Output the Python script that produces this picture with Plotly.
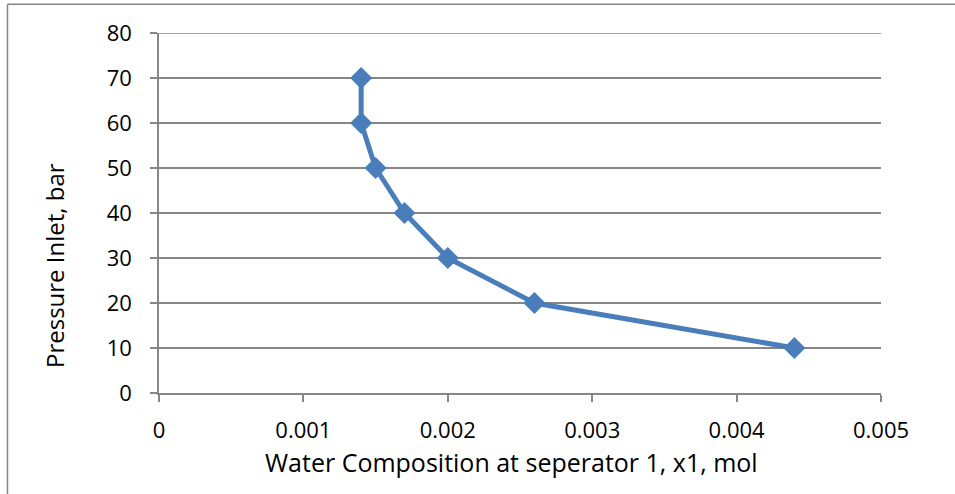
import plotly.graph_objects as go

water_x1 = [0.0014, 0.0014, 0.0015, 0.0017, 0.0020, 0.0026, 0.0044]
pressure_bar = [70, 60, 50, 40, 30, 20, 10]

x_ticks = [0, 0.001, 0.002, 0.003, 0.004, 0.005]
x_tick_labels = ["0", "0.001", "0.002", "0.003", "0.004", "0.005"]
y_ticks = [0, 10, 20, 30, 40, 50, 60, 70, 80]
x_title = "Water Composition at seperator 1, x1, mol"
y_title = "Pressure Inlet, bar"

W, H = 955, 494
L, R, T, B = 159, 74, 33, 101
pw, ph = W - L - R, H - T - B

grid = "#868686"
font_family = "Open Sans, Liberation Sans, sans-serif"

def px(xp):
    return (xp - L) / pw

def py(yp):
    return (H - B - yp) / ph

fig = go.Figure()
fig.add_trace(go.Scatter(
    x=water_x1, y=pressure_bar, mode="lines+markers",
    line=dict(color="#4A7EBB", width=5),
    marker=dict(symbol="diamond", size=17, color="#4A7EBB"),
    showlegend=False,
))

bx, by = px(7.5), py(4.3)
fig.add_shape(type="line", xref="paper", yref="paper",
              x0=bx, x1=bx, y0=by, y1=-0.5, line=dict(color=grid, width=1.5))
fig.add_shape(type="line", xref="paper", yref="paper",
              x0=bx, x1=1.5, y0=by, y1=by, line=dict(color=grid, width=1.5))
fig.add_shape(type="line", xref="paper", yref="y",
              x0=0, x1=1, y0=y_ticks[-1], y1=y_ticks[-1], line=dict(color=grid, width=1.5),
              layer="below")

fig.add_annotation(text=x_title, xref="paper", yref="paper", x=px(511), y=py(462),
                   showarrow=False, xanchor="center", yanchor="middle",
                   font=dict(size=25, family=font_family, color="black"))
fig.add_annotation(text=y_title, xref="paper", yref="paper", x=px(54), y=py(266),
                   showarrow=False, xanchor="center", yanchor="middle", textangle=-90,
                   font=dict(size=24, family=font_family, color="black"))

fig.update_layout(
    width=W, height=H,
    margin=dict(l=L, r=R, t=T, b=B, pad=0),
    paper_bgcolor="white", plot_bgcolor="white",
    font=dict(family=font_family, size=22, color="black"),
    xaxis=dict(
        range=[0, 0.005], tickvals=x_ticks, ticktext=x_tick_labels,
        showgrid=False, zeroline=False,
        showline=True, linecolor=grid, linewidth=1.5,
        ticks="outside", ticklen=7, tickcolor=grid, tickwidth=1.5,
        tickfont=dict(size=22), ticklabelstandoff=10,
    ),
    yaxis=dict(
        range=[0, 80], tickvals=y_ticks,
        showgrid=True, gridcolor=grid, gridwidth=1.5, zeroline=False,
        showline=True, linecolor=grid, linewidth=1.5,
        ticks="outside", ticklen=7, tickcolor=grid, tickwidth=1.5,
        tickfont=dict(size=22), ticklabelstandoff=14,
    ),
)

fig.write_html("out.html")
